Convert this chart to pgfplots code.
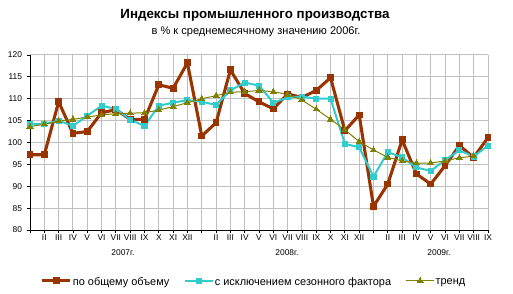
\documentclass[border=0pt]{standalone}
\usepackage{pgfplots}
\pgfplotsset{compat=1.18}
\usepackage{fontspec}
\setmainfont{Liberation Sans}
\definecolor{cbrown}{HTML}{993300}
\definecolor{ccyan}{HTML}{33CCCC}
\definecolor{colive}{HTML}{808000}
\definecolor{cgrid}{HTML}{C0C0C0}
\begin{document}
\begin{tikzpicture}
\path[use as bounding box] (0,0) rectangle (384.75pt,219.75pt);
\node[font=\bfseries\fontsize{10}{12}\selectfont] at (191.25pt,208.5pt) {Индексы промышленного производства};
\node[font=\fontsize{8.3}{10}\selectfont] at (192pt,195.75pt) {в \% к среднемесячному значению 2006г.};
\begin{axis}[
  at={(22.5pt,47.25pt)}, anchor=south west,
  scale only axis, width=343.5pt, height=131.25pt,
  xmin=0, xmax=32, ymin=80, ymax=120,
  axis lines*=left,
  axis line style={black, line width=0.75pt},
  xtick={0,...,32},
  xticklabels={,II,III,IV,V,VI,VII,VIII,IX,X,XI,XII,,II,III,IV,V,VI,VII,VIII,IX,X,XI,XII,,II,III,IV,V,VI,VII,VIII,IX},
  ytick={80,85,...,120},
  grid=major,
  major grid style={cgrid, line width=0.75pt},
  tick align=outside,
  major tick length=2.5pt,
  tick style={black, line width=0.6pt},
  ticklabel style={font=\fontsize{6.3}{7}\selectfont},
  xticklabel style={inner sep=1pt},
  /pgf/number format/assume math mode=true,
  clip=false,
  legend style={at={(0.488,-0.30)}, anchor=center, draw=none, fill=none,
    legend columns=3, font=\fontsize{8.2}{10}\selectfont,
    /tikz/every even column/.append style={column sep=10pt},
    nodes={inner sep=0.8pt}},
  legend image code/.code={\draw[mark repeat=2,mark phase=2] plot coordinates {(0pt,1.2pt) (10.5pt,1.2pt) (21pt,1.2pt)};},
]
\addplot[cbrown, line width=2.3pt, mark=square*, mark size=2.2pt, mark options={line width=0pt}] coordinates {
(0,97.2)(1,97.2)(2,109.3)(3,102.1)(4,102.5)(5,106.8)(6,107.5)(7,105.3)(8,105.3)(9,113.2)(10,112.4)(11,118.2)
(12,101.5)(13,104.5)(14,116.6)(15,111.2)(16,109.3)(17,107.7)(18,111.1)(19,110.3)(20,111.9)(21,114.8)(22,102.7)(23,106.3)
(24,85.4)(25,90.5)(26,100.6)(27,92.8)(28,90.5)(29,94.7)(30,99.3)(31,96.6)(32,101.1)};
\addlegendentry{по общему объему}
\addplot[ccyan, line width=1.5pt, mark=square*, mark size=1.9pt, mark options={line width=0pt}] coordinates {
(0,104.2)(1,104.2)(2,105.0)(3,103.8)(4,106.1)(5,108.4)(6,107.7)(7,105.2)(8,103.8)(9,108.4)(10,109.1)(11,109.7)
(12,109.3)(13,108.6)(14,111.9)(15,113.7)(16,113.0)(17,109.1)(18,110.3)(19,110.5)(20,110.0)(21,110.0)(22,99.7)(23,98.9)
(24,92.2)(25,97.8)(26,96.6)(27,94.3)(28,93.5)(29,96.0)(30,98.2)(31,96.8)(32,99.3)};
\addlegendentry{с исключением сезонного фактора}
\addplot[colive, line width=0.75pt, mark=triangle*, mark size=2.6pt, mark options={line width=0pt}] coordinates {
(0,103.6)(1,104.2)(2,104.9)(3,105.3)(4,105.8)(5,106.3)(6,106.6)(7,106.7)(8,106.8)(9,107.4)(10,108.2)(11,109.1)
(12,110.0)(13,110.7)(14,111.5)(15,111.6)(16,111.9)(17,111.6)(18,111.0)(19,109.7)(20,107.6)(21,105.3)(22,102.9)(23,100.2)
(24,98.3)(25,96.6)(26,95.8)(27,95.3)(28,95.3)(29,95.8)(30,96.5)(31,96.9)};
\addlegendentry{тренд}
\end{axis}
\node[font=\fontsize{6.3}{7}\selectfont] at (92.25pt,30pt) {2007г.};
\node[font=\fontsize{6.3}{7}\selectfont] at (215.25pt,30pt) {2008г.};
\node[font=\fontsize{6.3}{7}\selectfont] at (329.25pt,30pt) {2009г.};
\end{tikzpicture}
\end{document}
